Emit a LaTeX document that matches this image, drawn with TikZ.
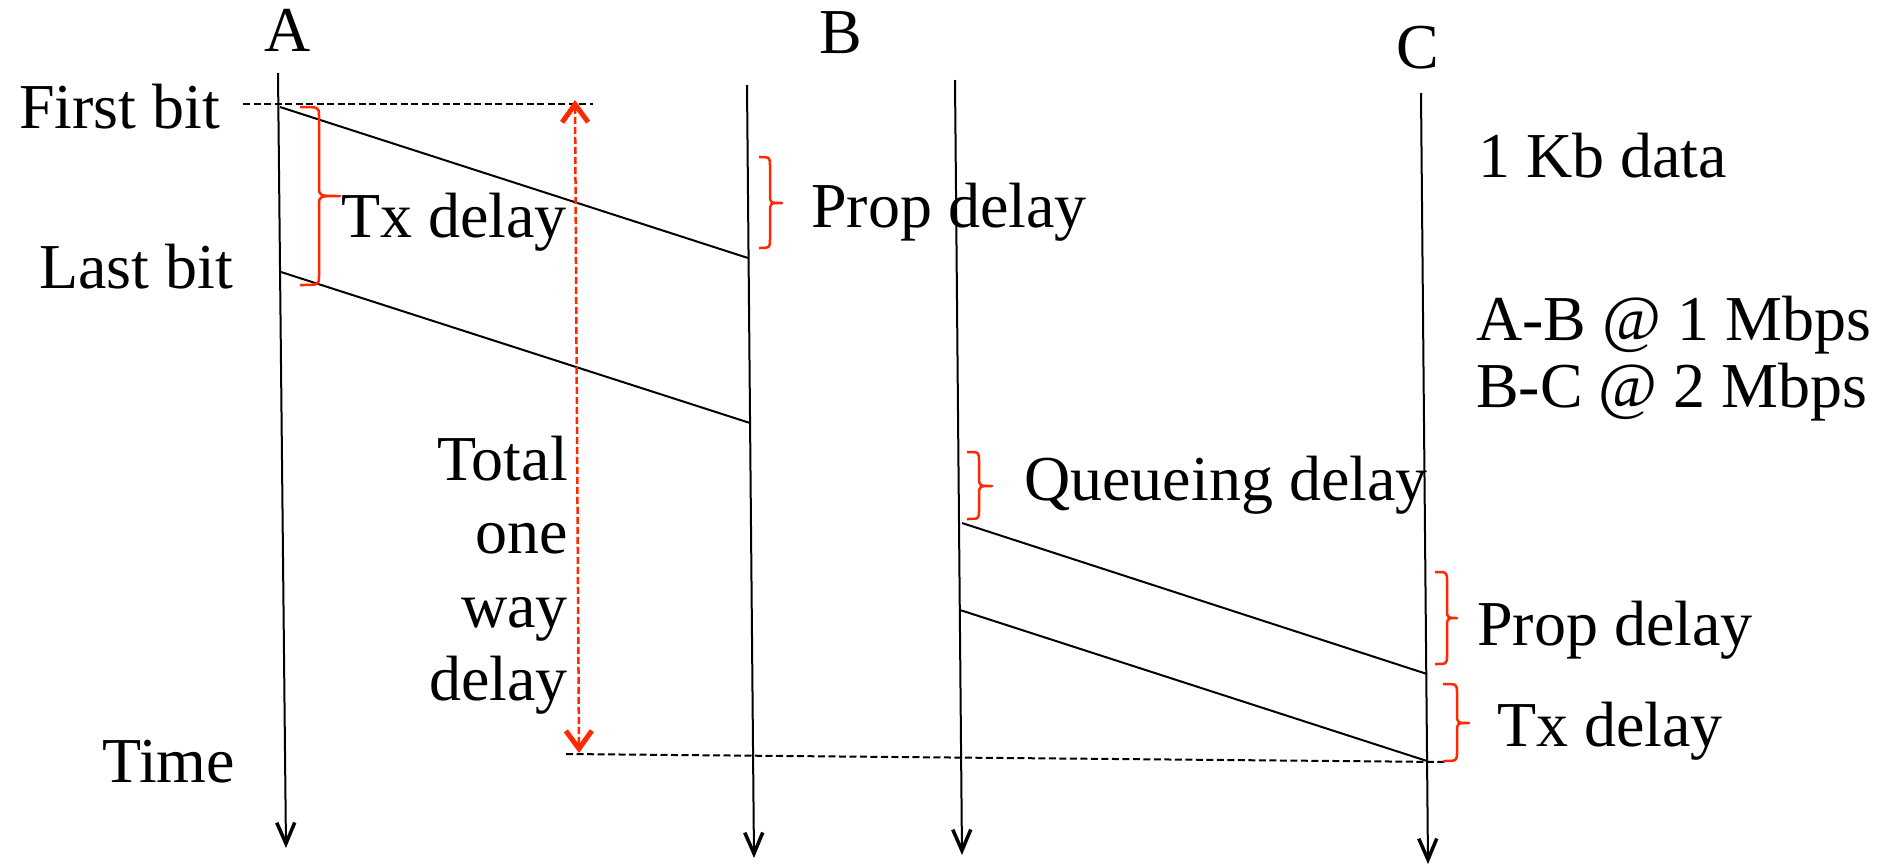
\documentclass[tikz,border=0pt]{standalone}
\usepackage{fontspec}
\setmainfont{Liberation Serif}
\usetikzlibrary{arrows.meta}
\definecolor{bred}{RGB}{255,40,0}
\tikzset{
  lbl/.style={font=\fontsize{64}{76}\selectfont, inner sep=0pt, anchor=base west},
  timeline/.style={line width=2pt, -{Straight Barb[length=21pt,width=18pt,line width=3.5pt]}},
  pkt/.style={line width=2pt},
  guide/.style={line width=2pt, dash pattern=on 7pt off 3.5pt},
  total/.style={bred, line width=2.5pt, dash pattern=on 7pt off 3pt,
    {Straight Barb[length=18pt,width=26pt,line width=5pt]}-{Straight Barb[length=18pt,width=26pt,line width=5pt]}},
  bracestyle/.style={bred, line width=2.5pt, line join=round}
}
\newcommand\mybrace[6]{%
  \draw[bracestyle] (#1,#4) .. controls (#2,#4) .. (#2,#4+9) -- (#2,#5-9)
    .. controls (#2,#5) .. (#3,#5) .. controls (#2,#5) .. (#2,#5+9)
    -- (#2,#6-9) .. controls (#2,#6) .. (#1,#6);}
\begin{document}
\begin{tikzpicture}[x=1pt,y=-1pt]
\useasboundingbox (0,0) rectangle (1888,865);
% time lines
\coordinate (Atop) at (278,73);   \coordinate (Abot) at (286,848);
\coordinate (B1top) at (747,85);  \coordinate (B1bot) at (754,858);
\coordinate (B2top) at (955,80);  \coordinate (B2bot) at (962,855);
\coordinate (Ctop) at (1421,93);  \coordinate (Cbot) at (1428,864);
\draw[timeline] (Atop) -- (Abot);
\draw[timeline] (B1top) -- (B1bot);
\draw[timeline] (B2top) -- (B2bot);
\draw[timeline] (Ctop) -- (Cbot);
% packet lines
\coordinate (p1s) at (280,107); \coordinate (p1e) at (748,258);
\coordinate (p2s) at (281,272); \coordinate (p2e) at (750,423);
\coordinate (p3s) at (962,523); \coordinate (p3e) at (1427,674);
\coordinate (p4s) at (960,610); \coordinate (p4e) at (1427,761);
\draw[pkt] (p1s) -- (p1e);
\draw[pkt] (p2s) -- (p2e);
\draw[pkt] (p3s) -- (p3e);
\draw[pkt] (p4s) -- (p4e);
% guides
\coordinate (g1s) at (243,104); \coordinate (g1e) at (593,104);
\coordinate (g2s) at (566,754); \coordinate (g2e) at (1445,762);
\draw[guide] (g1s) -- (g1e);
\draw[guide] (g2s) -- (g2e);
% total delay arrow
\coordinate (tt) at (575,100); \coordinate (tb) at (579,753);
\draw[total] (tt) -- (tb);
% braces
\mybrace{300}{319}{340}{107}{196}{285}
\mybrace{759}{770}{782}{157}{203}{248}
\mybrace{967}{979}{992}{452}{486}{519}
\mybrace{1435}{1447}{1457}{572}{618}{664}
\mybrace{1443}{1457}{1469}{684}{723}{761}
% labels
\node[lbl] (la) at (264,51) {A};
\node[lbl] (lb) at (819,53) {B};
\node[lbl] (lc) at (1396,68) {C};
\node[lbl] (first) at (19,128) {First bit};
\node[lbl] (last) at (39,288) {Last bit};
\node[lbl] (time) at (102,782) {Time};
\node[lbl] (tx1) at (341,237) {Tx delay};
\node[lbl] (prop1) at (811,227) {Prop delay};
\node[lbl] (queue) at (1024,500) {Queueing delay};
\node[lbl] (prop2) at (1477,645) {Prop delay};
\node[lbl] (tx2) at (1497,746) {Tx delay};
\node[lbl] (kb) at (1478,177) {1 Kb data};
\node[lbl] (ab) at (1476,340) {A-B @ 1 Mbps};
\node[lbl] (bc) at (1476,407) {B-C @ 2 Mbps};
\node[lbl, anchor=base east] (tot1) at (568,480) {Total};
\node[lbl, anchor=base east] (tot2) at (568,553) {one};
\node[lbl, anchor=base east] (tot3) at (568,627) {way};
\node[lbl, anchor=base east] (tot4) at (568,700) {delay};
\end{tikzpicture}
\end{document}
